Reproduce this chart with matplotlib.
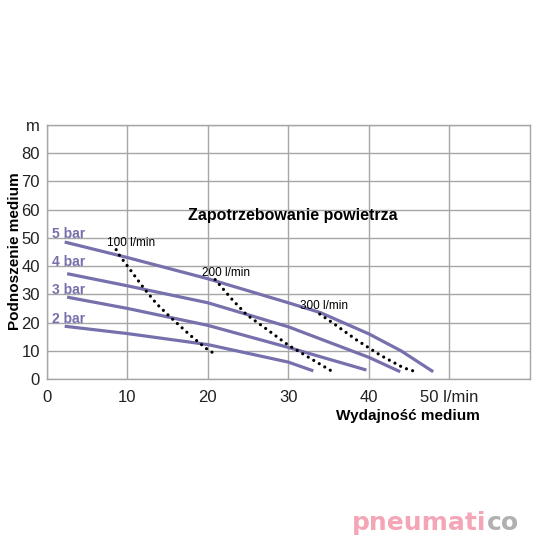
import numpy as np
import matplotlib
matplotlib.use("Agg")
from matplotlib import pyplot as plt

plt.rcParams['font.family'] = ['Liberation Sans', 'DejaVu Sans']

# pressure curves (flow l/min -> head m)
bar5_x = [2.2, 10, 20, 30, 34, 40, 44, 48]
bar5_y = [48.5, 43, 35.5, 27, 23.5, 16, 10, 2.6]
bar4_x = [2.5, 10, 20, 30, 40, 43.9]
bar4_y = [37.3, 33, 27, 18.5, 7.7, 2.6]
bar3_x = [2.5, 10, 20, 30, 39.7]
bar3_y = [29, 25, 19, 11.2, 3.2]
bar2_x = [2.2, 10, 20, 30, 33.1]
bar2_y = [18.7, 16.1, 12.2, 6, 2.9]

# air consumption curves
air100_x = [8.6, 9, 10, 12, 13.6, 15.3, 17.8, 19.8, 20.8]
air100_y = [45.8, 43.8, 40, 32.3, 26.7, 22, 15.5, 10.8, 9]
air200_x = [20.9, 21.5, 22.9, 24.8, 26.9, 30, 33.1, 35.4]
air200_y = [35.2, 33.2, 28.5, 22.8, 18.5, 12, 6.7, 2.8]
air300_x = [33.9, 35.6, 38.5, 41.4, 44.3, 45.5]
air300_y = [23, 19.7, 13.8, 8.5, 4, 2.9]

bar_labels = ["5 bar", "4 bar", "3 bar", "2 bar"]
bar_label_y = [51.5, 41.4, 31.4, 21.4]
air_labels = ["100 l/min", "200 l/min", "300 l/min"]
air_label_pos = [(7.4, 48), (19.3, 37.5), (31.5, 26)]

x_ticks = [0, 10, 20, 30, 40, 50]
x_ticklabels = ["0", "10", "20", "30", "40", "50 l/min"]
y_ticks = [0, 10, 20, 30, 40, 50, 60, 70, 80, 90]
y_ticklabels = ["0", "10", "20", "30", "40", "50", "60", "70", "80", "m"]

line_col = "#7670ad"
grid_col = "#a6a6a6"

fig = plt.figure(figsize=(5.4, 5.4), dpi=100)
ax = fig.add_axes([0.087, 0.298, 0.894, 0.471])

for xs, ys in [(bar5_x, bar5_y), (bar4_x, bar4_y), (bar3_x, bar3_y), (bar2_x, bar2_y)]:
    ax.plot(xs, ys, color=line_col, lw=2.3, solid_capstyle='butt',
            solid_joinstyle='round', zorder=3)

for xs, ys in [(air100_x, air100_y), (air200_x, air200_y), (air300_x, air300_y)]:
    ax.plot(xs, ys, color="black", lw=2.3, ls=(0, (0.01, 2.0)),
            dash_capstyle='round', zorder=4)

for lab, yy in zip(bar_labels, bar_label_y):
    ax.text(0.6, yy, lab, color=line_col, fontsize=10, fontweight='bold',
            ha='left', va='center', zorder=5)

for lab, (xx, yy) in zip(air_labels, air_label_pos):
    ax.text(xx, yy, lab, color="black", fontsize=8.5, ha='left', va='center', zorder=5)

ax.text(30.5, 58, "Zapotrzebowanie powietrza", fontsize=11.5, fontweight='bold',
        ha='center', va='center')

ax.set_xlim(0, 60)
ax.set_ylim(0, 90)
ax.set_xticks(x_ticks)
ax.set_xticklabels(x_ticklabels)
ax.set_yticks(y_ticks)
ax.set_yticklabels(y_ticklabels)
ax.tick_params(length=0, labelsize=12, colors="#222222")
ax.tick_params(axis='x', pad=8)
ax.tick_params(axis='y', pad=5)
ax.grid(True, color=grid_col, lw=1)
ax.set_axisbelow(True)
for sp in ax.spines.values():
    sp.set_color(grid_col)
    sp.set_linewidth(1)

fig.text(0.028, 0.535, "Podnoszenie medium", rotation=90, fontsize=11,
         fontweight='bold', ha='center', va='center')
fig.text(0.756, 0.230, "Wydajność medium", fontsize=11, fontweight='bold',
         ha='center', va='center')

# logo text
logo1 = fig.text(0.652, 0.031, "pneumati", fontsize=18, fontweight='bold',
                 family='DejaVu Sans', color="#f4a6b6", ha='left', va='center')
fig.canvas.draw()
bb = logo1.get_window_extent()
fig.text(bb.x1 / fig.bbox.width, 0.031, "co", fontsize=18, fontweight='bold',
         family='DejaVu Sans', color="#b0b0b0", ha='left', va='center')

fig.savefig("out.png", dpi=100)
